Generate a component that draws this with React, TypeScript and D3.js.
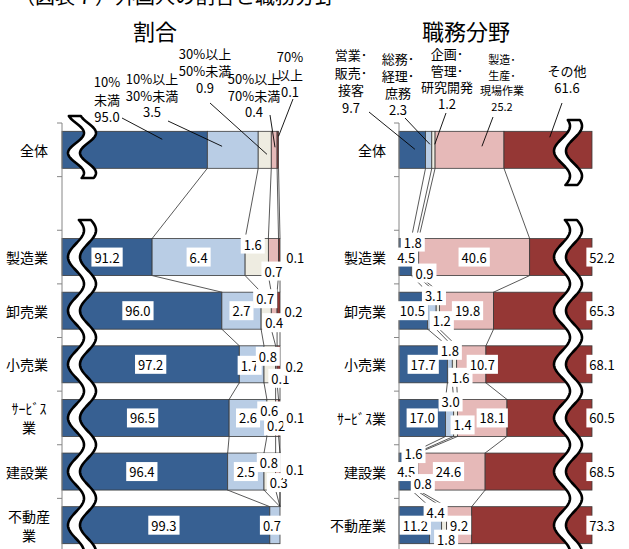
import React from 'react';
import * as d3 from 'd3';

// ---------- data ----------
const categories = ['全体', '', '製造業', '卸売業', '小売業', 'ｻｰﾋﾞｽ業', '建設業', '不動産業'];
const leftCategoryLines = [['全体'], [], ['製造業'], ['卸売業'], ['小売業'], ['ｻｰﾋﾞｽ', '業'], ['建設業'], ['不動産', '業']];

const ratioSeries = ['10%未満', '10%以上30%未満', '30%以上50%未満', '50%以上70%未満', '70%以上'];
const ratioAll = [95.0, 3.5, 0.9, 0.4, 0.1];
const ratioManufacturing = [91.2, 6.4, 1.6, 0.7, 0.1];
const ratioWholesale = [96.0, 2.7, 0.7, 0.4, 0.2];
const ratioRetail = [97.2, 1.7, 0.8, 0.1, 0.2];
const ratioService = [96.5, 2.6, 0.6, 0.2, 0.1];
const ratioConstruction = [96.4, 2.5, 0.8, 0.3, 0.1];
const ratioRealEstate = [99.3, 0.7, 0, 0, 0];

const jobSeries = ['営業・販売・接客', '総務・経理・庶務', '企画・管理・研究開発', '製造・生産・現場作業', 'その他'];
const jobAll = [9.7, 2.3, 1.2, 25.2, 61.6];
const jobManufacturing = [4.5, 1.8, 0.9, 40.6, 52.2];
const jobWholesale = [10.5, 3.1, 1.2, 19.8, 65.3];
const jobRetail = [17.7, 1.8, 1.6, 10.7, 68.1];
const jobService = [17.0, 3.0, 1.4, 18.1, 60.5];
const jobConstruction = [4.5, 1.6, 0.8, 24.6, 68.5];
const jobRealEstate = [11.2, 4.4, 1.8, 9.2, 73.3];

const ratioRows = [ratioAll, null, ratioManufacturing, ratioWholesale, ratioRetail, ratioService, ratioConstruction, ratioRealEstate];
const jobRows = [jobAll, null, jobManufacturing, jobWholesale, jobRetail, jobService, jobConstruction, jobRealEstate];

// ---------- styling / layout ----------
const seriesColors = ['#376092', '#B9CDE5', '#EEECE1', '#E6B9B8', '#953735'];
const FONT = "'Noto Sans CJK JP', 'Noto Sans', sans-serif";

// label nudges [dx, dy] relative to segment centre (row-wise, per segment)
const ratioLabelNudges = [
  null, null,
  [[0, 0], [0, 0], [-4, -13], [0, 14], [16, 0]],
  [[-4, 0], [0, 0], [-1, -12], [0, 12], [15, 1]],
  [[0, 0], [-2, 1], [-2, -8], [4, 14], [16, 2]],
  [[-3, 0], [0, 0], [-2, -7], [-1, 8], [16, 0]],
  [[-3, 0], [0, 0], [-1, -9], [1, 11], [15, -2]],
  [[-2, 0], [-3, 0], null, null, null],
];
const jobLabelNudges = [
  null, null,
  [[1, 0], [-1, -15], [7, 16], [0, 0], null],
  [[-1, 0], [2, -15], [4, 10], [1, 0], null],
  [[0, 0], [0, -14], [6, 13], [11, 0], null],
  [[0, 0], [1, -16], [7, 7], [10, 0], null],
  [[1, 0], [0, -18], [6, 12], [-3, 0], null],
  [[1, 0], [0, -13], [2, 14], [0, 0], null],
];

// header (全体) annotations
const ratioHeader = [
  { lines: ['10%', '未満'], x: 107, y: 87, lh: 17.5, size: 13, lead: [122, 118], t: 0.69, ty: 8 },
  { lines: ['10%以上', '30%未満'], x: 152, y: 84, lh: 16.5, size: 13, lead: [168, 121], t: 0.29, ty: 15 },
  { lines: ['30%以上', '50%未満'], x: 205, y: 59, lh: 17, size: 13, lead: [210, 103], t: 0.67, ty: 23 },
  { lines: ['50%以上', '70%未満'], x: 254, y: 84, lh: 16.5, size: 13, lead: [270, 115], t: 0.64, ty: 16 },
  { lines: ['70%', '以上'], x: 290, y: 62, lh: 17.5, size: 13, lead: [293, 99], t: 1.0, ty: 5 },
];
const jobHeader = [
  { lines: ['営業･', '販売･', '接客'], x: 351, y: 60, lh: 17.5, size: 13, lead: [369, 112], t: 0.6, ty: 18 },
  { lines: ['総務･', '経理･', '庶務'], x: 398, y: 64, lh: 17, size: 13, lead: [405, 118], t: 0.7, ty: 13 },
  { lines: ['企画･', '管理･', '研究開発'], x: 447, y: 59, lh: 16.5, size: 13, lead: [446, 113], t: 0.9, ty: 13 },
  { lines: ['製造･', '生産･', '現場作業'], x: 502, y: 64, lh: 15.7, size: 11, lead: [493, 117], t: 0.68, ty: 15 },
  { lines: ['その他'], x: 567, y: 76, lh: 17, size: 13, lead: [562, 103], t: 0.52, ty: 6 },
];

let ctx: CanvasRenderingContext2D | null = null;
function measure(text: string, size: number) {
  try {
    if (!ctx) ctx = document.createElement('canvas').getContext('2d');
    ctx!.font = `${size}px ${FONT}`;
    return ctx!.measureText(text).width;
  } catch (e) {
    return text.length * size * 0.56;
  }
}

function wavePath(cx: number, y0: number, y1: number, amp: number, period: number, peakY: number, halfW: number) {
  const ys = d3.range(y0, y1 + 0.01, 1);
  const f = (yy: number) => cx + amp * Math.cos((2 * Math.PI * (yy - peakY)) / period);
  const left = ys.map((yy) => [f(yy) - halfW, yy] as [number, number]);
  const right = ys.slice().reverse().map((yy) => [f(yy) + halfW, yy] as [number, number]);
  return (d3.line()([...left, ...right]) || '') + 'Z';
}

function segs(vals: number[], x: d3.ScaleLinear<number, number>) {
  let c = 0;
  return vals.map((v, i) => {
    const s = c;
    c += v;
    return { i, v, s, e: c, x0: x(s), x1: x(c) };
  });
}

export default function App() {
  const W = 629, H = 549;
  const y = d3.scaleBand<string>().domain(categories).range([123, 552]).paddingInner(0.31).paddingOuter(0.155);
  const bw = y.bandwidth();
  const step = y.step();
  const xL = d3.scaleLinear().domain([85, 100]).range([62, 280]).clamp(true);
  const xR = d3.scaleLinear().domain([0, 70.6]).range([399, 592]).clamp(true);
  const ticks = d3.range(0, categories.length + 1).map((i) => 123 + i * step);

  const panels = [
    { x: xL, rows: ratioRows, nudges: ratioLabelNudges, axisX: 62, right: false },
    { x: xR, rows: jobRows, nudges: jobLabelNudges, axisX: 399, right: true },
  ];

  const els: React.ReactNode[] = [];

  panels.forEach((p, pi) => {
    const x = p.x;
    const maxDomain = x.domain()[1];
    // series lines
    const idx = p.rows.map((r, i) => (r ? i : -1)).filter((i) => i >= 0);
    for (let k = 0; k < idx.length - 1; k++) {
      const a = idx[k], b = idx[k + 1];
      const sa = segs(p.rows[a]!, x), sb = segs(p.rows[b]!, x);
      sa.forEach((s, j) => {
        if (p.right && (s.e > maxDomain || sb[j].e > maxDomain)) return;
        els.push(
          <line key={`sl${pi}-${k}-${j}`} x1={s.x1} y1={y(categories[a])! + bw} x2={sb[j].x1} y2={y(categories[b])!}
            stroke="#111" strokeWidth={0.7} />
        );
      });
    }
    // bars
    p.rows.forEach((r, ri) => {
      if (!r) return;
      const yy = y(categories[ri])!;
      segs(r, x).forEach((s) => {
        if (s.v <= 0 || s.x1 - s.x0 <= 0) return;
        els.push(
          <rect key={`b${pi}-${ri}-${s.i}`} x={s.x0} y={yy} width={s.x1 - s.x0} height={bw}
            fill={seriesColors[s.i]} stroke="#3a3a3a" strokeWidth={0.8} />
        );
      });
    });
    // axis
    els.push(<line key={`ax${pi}`} x1={p.axisX} x2={p.axisX} y1={123} y2={H + 5} stroke="#868686" strokeWidth={1} />);
    ticks.forEach((t, ti) => {
      els.push(<line key={`tk${pi}-${ti}`} x1={p.axisX - 5} x2={p.axisX} y1={t} y2={t} stroke="#868686" strokeWidth={1} />);
    });
  });

  // waves (axis breaks)
  const tick1 = ticks[3];
  const waves = [
    wavePath(82, 116, 178, 8, 40, 133, 6),
    wavePath(568, 120, 185, 8, 50, 126, 6),
    wavePath(82, 220, 565, 8, step, tick1, 6),
    wavePath(568, 220, 565, 8, step, tick1, 6),
  ];
  waves.forEach((d, i) =>
    els.push(<path key={`w${i}`} d={d} fill="#fff" stroke="#000" strokeWidth={2.6} strokeLinejoin="round" />)
  );

  // data labels
  const labelEls: React.ReactNode[] = [];
  const addLabel = (key: string, text: string, cx: number, cy: number) => {
    const w = measure(text, 13) + 6;
    labelEls.push(
      <g key={key}>
        <rect x={cx - w / 2} y={cy - 9.5} width={w} height={19} fill="#fff" />
        <text x={cx} y={cy} textAnchor="middle" dominantBaseline="central" fontSize={13} fontFamily={FONT} fill="#000">{text}</text>
      </g>
    );
  };
  panels.forEach((p, pi) => {
    const x = p.x;
    p.rows.forEach((r, ri) => {
      const nud = p.nudges[ri];
      if (!r || !nud) return;
      const cy = y(categories[ri])! + bw / 2;
      segs(r, x).forEach((s) => {
        const n = nud[s.i];
        if (p.right && s.i === 4) {
          addLabel(`l${pi}-${ri}-${s.i}`, s.v.toFixed(1), x.range()[1] + 10, cy);
          return;
        }
        if (!n || s.v <= 0) return;
        addLabel(`l${pi}-${ri}-${s.i}`, s.v.toFixed(1), (s.x0 + s.x1) / 2 + n[0], cy + n[1]);
      });
    });
  });

  // header annotations
  const headerEls: React.ReactNode[] = [];
  const headers = [
    { h: ratioHeader, x: xL, vals: ratioAll },
    { h: jobHeader, x: xR, vals: jobAll },
  ];
  headers.forEach((hd, pi) => {
    const sg = segs(hd.vals, hd.x);
    const top = y(categories[0])!;
    hd.h.forEach((h, i) => {
      const lines = [...h.lines, hd.vals[i].toFixed(1)];
      lines.forEach((ln, li) => {
        headerEls.push(
          <text key={`h${pi}-${i}-${li}`} x={h.x} y={h.y + li * h.lh} textAnchor="middle" fontSize={h.size} fontFamily={FONT} fill="#000">{ln}</text>
        );
      });
      const s = sg[i];
      const ex = s.x0 + h.t * (s.x1 - s.x0);
      headerEls.push(
        <line key={`hl${pi}-${i}`} x1={h.lead[0]} y1={h.lead[1]} x2={ex} y2={top + h.ty} stroke="#000" strokeWidth={0.9} />
      );
    });
  });

  // category labels
  const catEls: React.ReactNode[] = [];
  categories.forEach((c, ci) => {
    if (!c) return;
    const cy = y(c)! + bw / 2;
    const lines = leftCategoryLines[ci];
    if (lines.length === 1) {
      catEls.push(<text key={`cl${ci}`} x={48} y={cy} textAnchor="end" dominantBaseline="central" fontSize={14} fontFamily={FONT}>{lines[0]}</text>);
    } else {
      lines.forEach((ln, li) =>
        catEls.push(<text key={`cl${ci}-${li}`} x={29} y={cy + (li - 0.5) * 19} textAnchor="middle" dominantBaseline="central" fontSize={14} fontFamily={FONT}>{ln}</text>)
      );
    }
    catEls.push(<text key={`cr${ci}`} x={386} y={cy} textAnchor="end" dominantBaseline="central" fontSize={14} fontFamily={FONT}>{c}</text>);
  });

  return (
    <svg width={W} height={H} style={{ position: 'absolute', left: 0, top: 0, display: 'block', background: '#fff' }}>
      <rect x={0} y={0} width={W} height={H} fill="#fff" />
      <text x={15} y={4} fontSize={20} fontFamily={FONT} fill="#000">（図表７）外国人の割合と職務分野</text>
      <text x={155} y={40} textAnchor="middle" fontSize={22} fontFamily={FONT} fill="#000">割合</text>
      <text x={466} y={40} textAnchor="middle" fontSize={22} fontFamily={FONT} fill="#000">職務分野</text>
      {els}
      {headerEls}
      {catEls}
      {labelEls}
    </svg>
  );
}
